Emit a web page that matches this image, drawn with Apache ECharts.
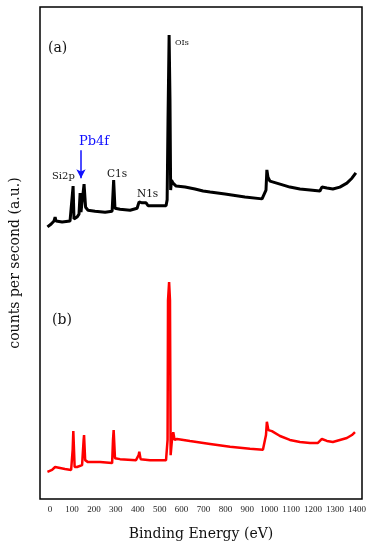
<!DOCTYPE html>
<html>
<head>
<meta charset="utf-8">
<script src="https://cdn.jsdelivr.net/npm/echarts@6/dist/echarts.min.js"></script>
<style>html,body{margin:0;padding:0;background:#fff}#c{width:377px;height:550px}</style>
</head>
<body>
<div id="c"></div>
<script>
// Binding energy (eV) and intensity (a.u.) for sample (a)
const energyA = [-12,5,18,23,27,55,91,100,105,109,123,132,137,141,150,155,162,173,205,251,283,290,296,319,365,397,406,420,429,438,447,479,529,534,538,543,547,550,554,561,575,616,661,698,702,730,798,889,967,976,985,989,994,1003,1012,1049,1094,1140,1186,1231,1240,1263,1290,1322,1354,1377,1395];
const countsA = [553,559,565,573,565,563,565,569,636,569,573,579,622,583,587,640,593,587,585,583,585,648,591,589,587,591,604,602,598,602,596,596,596,608,770,943,811,628,648,642,636,634,630,626,630,624,620,614,610,610,628,669,654,646,648,640,634,630,628,626,634,632,630,634,642,652,663];
// sample (b)
const energyB = [-12,9,23,27,32,68,96,103,106,112,123,146,153,155,160,173,228,283,287,290,296,319,392,404,407,413,456,529,536,538,543,547,550,556,562,568,579,638,730,821,912,971,980,985,989,996,1003,1012,1049,1094,1140,1186,1222,1240,1263,1290,1322,1354,1377,1391];
const countsB = [55,59,65,69,61,61,59,100,138,65,65,69,120,130,79,75,75,73,120,140,83,81,79,89,96,81,79,79,120,404,441,404,89,120,136,120,122,118,112,106,102,100,102,130,157,140,136,138,128,120,116,114,114,122,118,116,120,124,130,136];
const xTicks = [0,100,200,300,400,500,600,700,800,900,1000,1100,1200,1300,1400];
const arrowPb = [[141,709],[141,652]];

const zip = (xs, ys) => xs.map((x, i) => [x, ys[i]]);
const serif = 'DejaVu Serif';
const chart = echarts.init(document.getElementById('c'), null, {renderer: 'canvas'});
chart.setOption({
  animation: false,
  backgroundColor: '#fff',
  grid: {left: 40, right: 15, top: 7, bottom: 51, show: true, borderColor: '#000', borderWidth: 1.5, backgroundColor: 'transparent'},
  xAxis: {
    type: 'value', min: -46, max: 1423,
    axisLine: {show: false}, axisTick: {show: false}, splitLine: {show: false},
    axisLabel: {customValues: xTicks, formatter: v => String(v), fontFamily: 'Liberation Serif', fontSize: 9, color: '#222', margin: 6},
    name: 'Binding Energy (eV)', nameLocation: 'middle', nameGap: 28,
    nameTextStyle: {fontFamily: serif, fontSize: 14, color: '#111'}
  },
  yAxis: {
    type: 'value', min: 0, max: 1000,
    axisLine: {show: false}, axisTick: {show: false}, splitLine: {show: false}, axisLabel: {show: false}
  },
  series: [
    {type: 'line', data: zip(energyA, countsA), showSymbol: false, lineStyle: {color: '#000', width: 3}, z: 3,
     markLine: {silent: true, symbol: ['none', 'arrow'], symbolSize: [7, 9],
       lineStyle: {color: '#1010ff', width: 1.5, type: 'solid'}, label: {show: false},
       data: [[{coord: arrowPb[0]}, {coord: arrowPb[1]}]]}},
    {type: 'line', data: zip(energyB, countsB), showSymbol: false, lineStyle: {color: '#ff0000', width: 2.5}, z: 2}
  ],
  graphic: [
    {type: 'text', x: 15, y: 263, rotation: Math.PI / 2, style: {text: 'counts per second (a.u.)', font: '14px "DejaVu Serif"', fill: '#111', textAlign: 'center', textVerticalAlign: 'middle'}},
    {type: 'text', x: 48, y: 48, style: {text: '(a)', font: '14px "DejaVu Serif"', fill: '#111', textVerticalAlign: 'middle'}},
    {type: 'text', x: 52, y: 320, style: {text: '(b)', font: '14px "DejaVu Serif"', fill: '#111', textVerticalAlign: 'middle'}},
    {type: 'text', x: 175, y: 43, style: {text: 'OIs', font: '8px "DejaVu Serif"', fill: '#111', textVerticalAlign: 'middle'}},
    {type: 'text', x: 52, y: 176, style: {text: 'Si2p', font: '10px "DejaVu Serif"', fill: '#111', textVerticalAlign: 'middle'}},
    {type: 'text', x: 107, y: 174, style: {text: 'C1s', font: '10.5px "DejaVu Serif"', fill: '#111', textVerticalAlign: 'middle'}},
    {type: 'text', x: 137, y: 194, style: {text: 'N1s', font: '10.5px "DejaVu Serif"', fill: '#111', textVerticalAlign: 'middle'}},
    {type: 'text', x: 79, y: 142, style: {text: 'Pb4f', font: '13px "DejaVu Serif"', fill: '#1010ff', textVerticalAlign: 'middle'}}
  ]
});
</script>
</body>
</html>
